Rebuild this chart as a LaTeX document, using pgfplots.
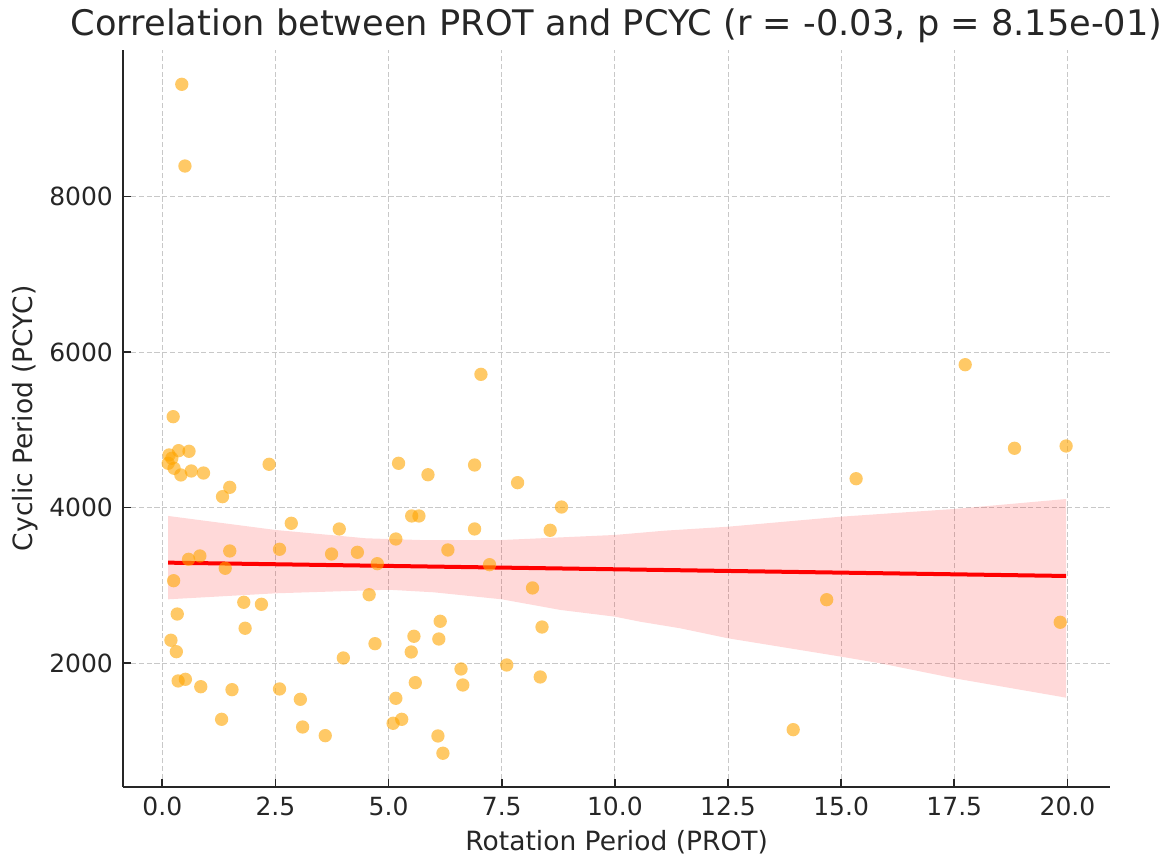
\documentclass[border=0pt]{standalone}
\usepackage{fontspec}
\setmainfont{DejaVu Sans}
\usepackage{pgfplots}
\pgfplotsset{compat=1.18}

\definecolor{ptorange}{HTML}{FFA500}
\definecolor{txtgray}{HTML}{262626}
\definecolor{gridgray}{HTML}{C8C8C8}

\begin{document}
\begin{tikzpicture}
% fixed page frame around the axis box
\path[use as bounding box] (-61.65pt,-34.15pt) rectangle (524.35pt,393.35pt);
\begin{axis}[
  at={(0pt,0pt)}, anchor=south west,
  scale only axis, width=493.35pt, height=368.35pt,
  xmin=-0.862, xmax=20.94, ymin=414, ymax=9881,
  axis x line*=bottom, axis y line*=left,
  axis line style={-, line width=0.85pt, color=txtgray},
  tick align=inside, major tick length=3.65pt,
  every tick/.style={line width=0.85pt, color=txtgray},
  xtick={0,2.5,...,20}, ytick={2000,4000,6000,8000},
  /pgf/number format/assume math mode=true,
  xticklabel style={/pgf/number format/.cd, fixed, fixed zerofill, precision=1, /tikz/.cd,
    anchor=base, yshift=-14.2pt, font=\fontsize{12.5}{15}\selectfont, text=txtgray},
  yticklabel style={/pgf/number format/.cd, 1000 sep={}, /tikz/.cd,
    anchor=east, inner sep=0pt, xshift=-5pt, font=\fontsize{12.5}{15}\selectfont, text=txtgray},
  grid=major,
  major grid style={line width=0.5pt, color=gridgray, dash pattern=on 2.6pt off 1.3pt},
  xlabel={Rotation Period (PROT)},
  ylabel={Cyclic Period (PCYC)},
  xlabel style={at={(axis description cs:0.5,-0.0861)}, anchor=base,
    font=\fontsize{13.25}{16}\selectfont, text=txtgray},
  ylabel style={at={(axis description cs:-0.0922,0.5)}, anchor=base, rotate=0,
    font=\fontsize{13.25}{16}\selectfont, text=txtgray},
  title={Correlation between PROT and PCYC (r = -0.03, p = 8.15e-01)},
  every axis title shift=0pt,
  title style={at={(axis description cs:0.5,1.019)}, anchor=base,
    font=\fontsize{17.6}{21}\selectfont, text=txtgray},
]

% observations
\addplot[only marks, mark=*, mark size=3.33pt,
  mark options={fill=ptorange, fill opacity=0.6, draw opacity=0}]
coordinates {
(0.43,9440) (0.50,8390) (0.24,5169) (0.15,4677) (0.21,4634) (0.36,4732)
(0.59,4724) (0.13,4570) (0.26,4506) (0.41,4420) (0.64,4471) (0.91,4445)
(1.49,4261) (1.33,4141) (2.36,4557) (5.22,4570) (5.51,3893) (5.67,3893)
(2.85,3799) (3.91,3726) (5.16,3597) (0.58,3336) (0.83,3379) (1.49,3443)
(1.39,3221) (2.59,3465) (3.74,3404) (4.31,3426) (4.75,3280) (0.25,3061)
(4.57,2881) (0.33,2633) (1.80,2784) (2.19,2758) (1.83,2450) (0.19,2296)
(0.31,2149) (4.70,2252) (4.00,2068) (5.56,2347) (5.50,2145) (0.35,1773)
(0.51,1794) (0.85,1699) (1.54,1661) (2.59,1670) (3.05,1537) (5.59,1751)
(5.16,1550) (1.31,1280) (3.10,1181) (3.60,1070) (5.10,1229) (5.29,1280)
(7.04,5713) (5.87,4423) (6.90,4548) (7.85,4321) (8.82,4008) (6.90,3726)
(8.57,3709) (6.31,3456) (7.23,3267) (8.18,2968) (6.14,2540) (6.11,2312)
(8.39,2466) (6.60,1927) (7.61,1978) (6.64,1721) (8.35,1824) (6.09,1066)
(6.20,844) (15.33,4372) (14.68,2817) (13.94,1147) (17.74,5837) (18.83,4763)
(19.97,4792) (19.84,2527)
};

% confidence band of the fit
\addplot[draw=none, fill=red, fill opacity=0.15]
coordinates {
(0.13,3893) (2.5,3713) (4.5,3606) (5.7,3584) (7.5,3584) (10,3649)
(11.1,3704) (12.5,3755) (15,3884) (17.5,3983) (19.97,4111)
(19.97,1558) (17.5,1807) (15.86,2000) (15,2085) (12.5,2321) (11.44,2450)
(10.55,2535) (10,2599) (8.8,2685) (7.5,2822) (6,2912) (5,2945)
(2.5,2899) (0.13,2822)
} -- cycle;

% regression line
\addplot[draw=red, line width=2pt] coordinates {(0.13,3293) (19.97,3122)};

\end{axis}
\end{tikzpicture}
\end{document}
